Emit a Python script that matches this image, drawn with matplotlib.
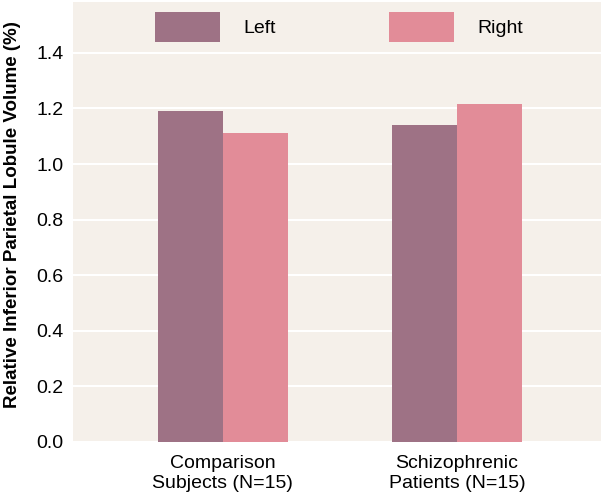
import matplotlib.pyplot as plt
import numpy as np

plt.rcParams['font.family'] = ['Liberation Sans', 'DejaVu Sans']

groups = ['Comparison\nSubjects (N=15)', 'Schizophrenic\nPatients (N=15)']
left_vals = [1.19, 1.14]
right_vals = [1.11, 1.215]
yticks = [0.0, 0.2, 0.4, 0.6, 0.8, 1.0, 1.2, 1.4]

left_color = '#9e7285'
right_color = '#e28c98'
bg_color = '#f5f0ea'

fig = plt.figure(figsize=(6.01, 4.99), dpi=100)
ax = fig.add_axes([73 / 601, 1 - 442 / 499, 528 / 601, 440 / 499])
ax.set_facecolor(bg_color)

x = np.arange(len(groups))
w = 0.278
ax.bar(x - w / 2, left_vals, w, color=left_color, label='Left', zorder=2)
ax.bar(x + w / 2, right_vals, w, color=right_color, label='Right', zorder=2)

ax.set_xlim(-0.64, 1.615)
ax.set_ylim(0, 1.583)
ax.set_yticks(yticks)
ax.set_yticklabels([f'{v:.1f}' for v in yticks])
ax.set_xticks(x)
ax.set_xticklabels(groups, linespacing=1.3)
ax.tick_params(axis='y', length=0, labelsize=14, pad=7)
ax.tick_params(axis='x', length=0, labelsize=14, pad=9)
ax.grid(axis='y', color='white', linewidth=1.5, zorder=1)
ax.set_axisbelow(True)
for s in ax.spines.values():
    s.set_visible(False)

ax.set_ylabel('Relative Inferior Parietal Lobule Volume (%)', fontsize=13.5,
              fontweight='bold')
ax.yaxis.set_label_coords(-0.098, 0.518)

ax.legend(loc='upper center', ncol=2, frameon=False, fontsize=14,
          handlelength=3.34, handleheight=2.0, handletextpad=1.23,
          columnspacing=5.8, bbox_to_anchor=(0.504, 1.0), borderaxespad=0.12)

plt.savefig('out.png', dpi=100)
